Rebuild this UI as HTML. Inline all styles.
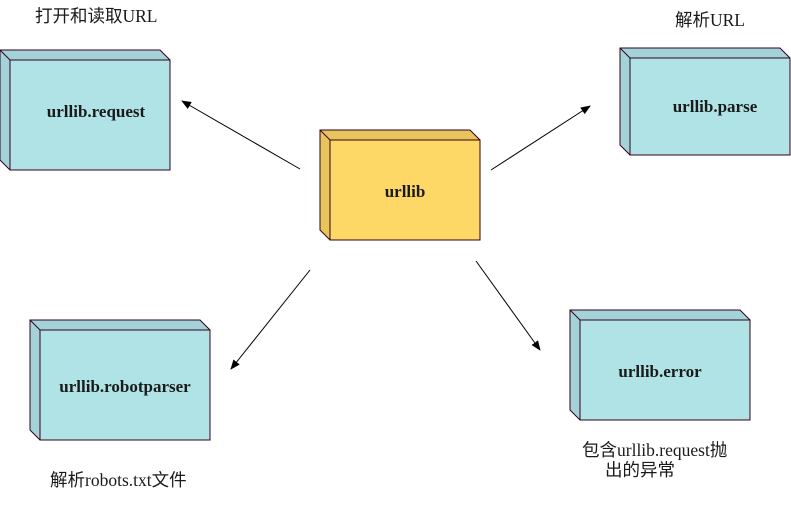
<!DOCTYPE html>
<html><head><meta charset="utf-8"><style>
body{margin:0;background:#fff;width:791px;height:501px;overflow:hidden}
</style></head><body>
<svg width="791" height="501" xmlns="http://www.w3.org/2000/svg" font-family="'Liberation Serif','Noto Serif CJK SC',serif">
<defs><marker id="a" markerWidth="10" markerHeight="8" refX="9" refY="4" orient="auto" markerUnits="userSpaceOnUse"><path d="M0,0 L10,4 L0,8 Z" fill="#000"/></marker></defs>
<g stroke="#33001a" stroke-width="1">
<polygon points="0,50 160,50 170,60 170,170 10,170 0,160" fill="#a3d3d8"/>
<rect x="10" y="60" width="160" height="110" fill="#b0e3e6"/>
<line x1="0" y1="50" x2="10" y2="60"/>
<polygon points="320,130 470,130 480,140 480,240 330,240 320,230" fill="#e8c55a"/>
<rect x="330" y="140" width="150" height="100" fill="#fdd866"/>
<line x1="320" y1="130" x2="330" y2="140"/>
<polygon points="620,48 780,48 790,58 790,155 630,155 620,145" fill="#a3d3d8"/>
<rect x="630" y="58" width="160" height="97" fill="#b0e3e6"/>
<line x1="620" y1="48" x2="630" y2="58"/>
<polygon points="30,320 200,320 210,330 210,440 40,440 30,430" fill="#a3d3d8"/>
<rect x="40" y="330" width="170" height="110" fill="#b0e3e6"/>
<line x1="30" y1="320" x2="40" y2="330"/>
<polygon points="570,310 740,310 750,320 750,420 580,420 570,410" fill="#a3d3d8"/>
<rect x="580" y="320" width="170" height="100" fill="#b0e3e6"/>
<line x1="570" y1="310" x2="580" y2="320"/>
</g>
<g stroke="#000" stroke-width="1" marker-end="url(#a)">
<line x1="300" y1="169" x2="182" y2="101"/>
<line x1="491" y1="170" x2="590" y2="106"/>
<line x1="310" y1="270" x2="231" y2="369"/>
<line x1="476" y1="261" x2="540" y2="350"/>
</g>
<g font-weight="bold" font-size="17" fill="#1a1a1a" text-anchor="middle">
<text x="96" y="117">urllib.request</text>
<text x="405" y="197">urllib</text>
<text x="715" y="112">urllib.parse</text>
<text x="125" y="392">urllib.robotparser</text>
<text x="660" y="377">urllib.error</text>
</g>
<g font-size="17.5" fill="#1a1a1a" font-family="'Liberation Serif','Noto Sans CJK SC',serif">
<text x="35" y="22">打开和读取URL</text>
<text x="675" y="26">解析URL</text>
<text x="50" y="486">解析robots.txt文件</text>
<text x="582" y="456">包含urllib.request抛</text>
<text x="605" y="476">出的异常</text>
</g>
</svg>
</body></html>
